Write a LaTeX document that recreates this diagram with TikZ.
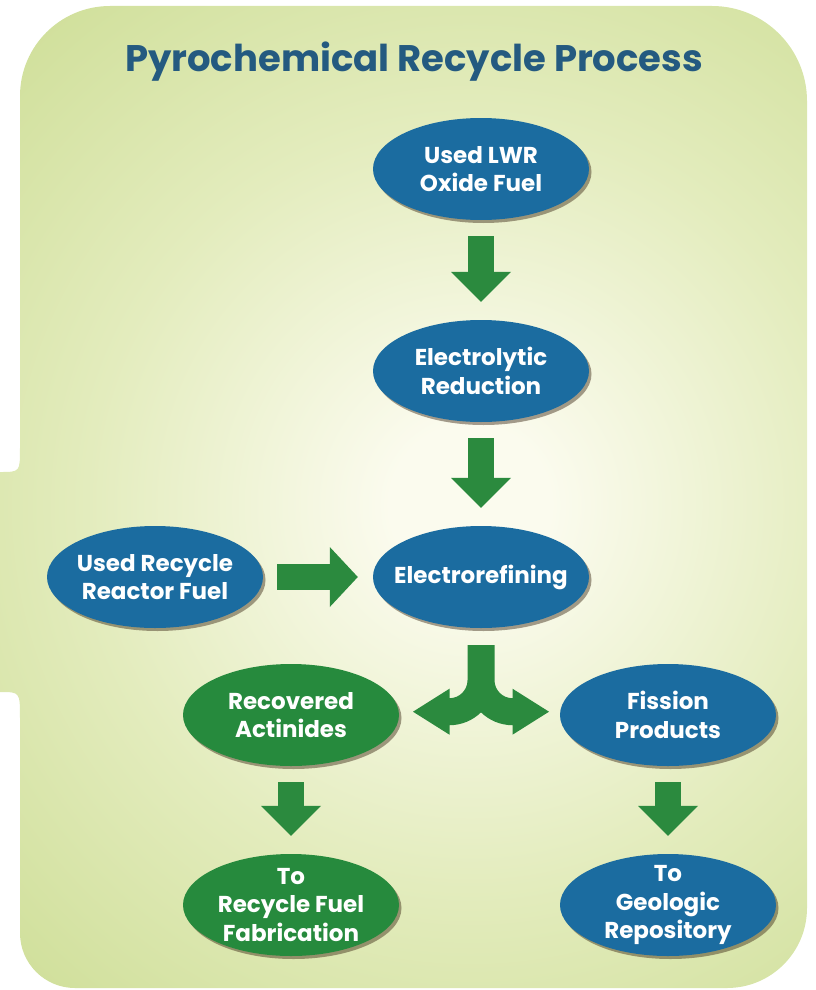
\documentclass[tikz,border=0pt]{standalone}
\usepackage{fontspec}
\setmainfont{Poppins}
\usetikzlibrary{shapes.geometric,arrows.meta,calc,shadows}
\definecolor{bgout}{HTML}{C8DA8C}
\definecolor{bgmid}{HTML}{E3ECBD}
\definecolor{bgin}{HTML}{FBFBEE}
\definecolor{nblue}{HTML}{1B6CA0}
\definecolor{ngreen}{HTML}{268A3D}
\definecolor{agreen}{HTML}{2B8A3E}
\definecolor{ttl}{HTML}{245A80}
\pgfdeclareradialshading{bgshade}{\pgfpoint{0bp}{0bp}}{color(0bp)=(bgin); color(2.5bp)=(bgin); color(12bp)=(bgmid); color(24bp)=(bgout); color(100bp)=(bgout)}
\tikzset{
  proc/.style={ellipse, minimum width=216pt, minimum height=102pt,
    inner xsep=-25pt, inner ysep=-15pt,
    text=white, font=\bfseries\fontsize{23}{28.5}\selectfont, align=center,
    drop shadow={shadow xshift=2.5pt, shadow yshift=-3pt, fill=black!70!brown, opacity=0.45}},
  bluen/.style={proc, fill=nblue},
  greenn/.style={proc, fill=ngreen},
  blockv/.style={draw=agreen, line width=26pt,
    -{Triangle[width=60pt,length=30pt,line width=0pt]}, shorten <=16pt, shorten >=18pt},
  blockh/.style={draw=agreen, line width=26pt,
    -{Triangle[width=60pt,length=28pt,line width=0pt]}, shorten <=14pt, shorten >=15pt},
}
\begin{document}
\begin{tikzpicture}[x=1pt,y=-1pt]
\useasboundingbox (0,0) rectangle (816,990);
\begin{scope}
\clip (20,96) arc[start angle=180,end angle=270,radius=90]
  -- (712,6) arc[start angle=270,end angle=360,radius=95]
  -- (807,908) arc[start angle=0,end angle=90,radius=80]
  -- (75,988) arc[start angle=90,end angle=180,radius=55]
  -- (20,718) .. controls (20,692) .. (0,692) -- (-2,692) -- (-2,472) -- (0,472)
  .. controls (20,472) .. (20,448) -- cycle;
\shade[shading=bgshade] (470,505) circle[radius=800];
\end{scope}

\node[font=\bfseries\fontsize{37}{40}\selectfont, text=ttl] (title) at (414,62) {Pyrochemical Recycle Process};

\node[bluen] (e1) at (481,169) {Used LWR\\Oxide Fuel};
\node[bluen] (e2) at (481,371) {Electrolytic\\Reduction};
\node[bluen] (e3) at (481,577) {Electrorefining};
\node[bluen] (e4) at (155,577) {Used Recycle\\Reactor Fuel};
\node[greenn] (e5) at (291,715) {Recovered\\Actinides};
\node[bluen] (e6) at (668,715) {Fission\\Products};
\node[greenn] (e7) at (291,905) {To\\Recycle Fuel\\Fabrication};
\node[bluen] (e8) at (668,905) {To\\Geologic\\Repository};

\draw[blockv] (e1) -- (e2);
\draw[blockv] (e2) -- (e3);
\draw[blockh] (e4) -- (e3);
\draw[blockv] (e5) -- (e7);
\draw[blockv] (e6) -- (e8);

\coordinate (fk) at ($(e3.south)+(0,17)$);
\fill[agreen] ($(fk)+(-13.5,0)$) -- ++(27,0) -- ++(0,35)
  arc[start angle=180,end angle=90,radius=18]
  -- ++(0,-9.5) -- ++(36.5,23) -- ++(-36.5,23) -- ++(0,-9.5)
  arc[start angle=90,end angle=134.43,radius=45]
  arc[start angle=45.57,end angle=90,radius=45]
  -- ++(0,9.5) -- ++(-36.5,-23) -- ++(36.5,-23) -- ++(0,9.5)
  arc[start angle=90,end angle=0,radius=18] -- cycle;
\end{tikzpicture}
\end{document}
